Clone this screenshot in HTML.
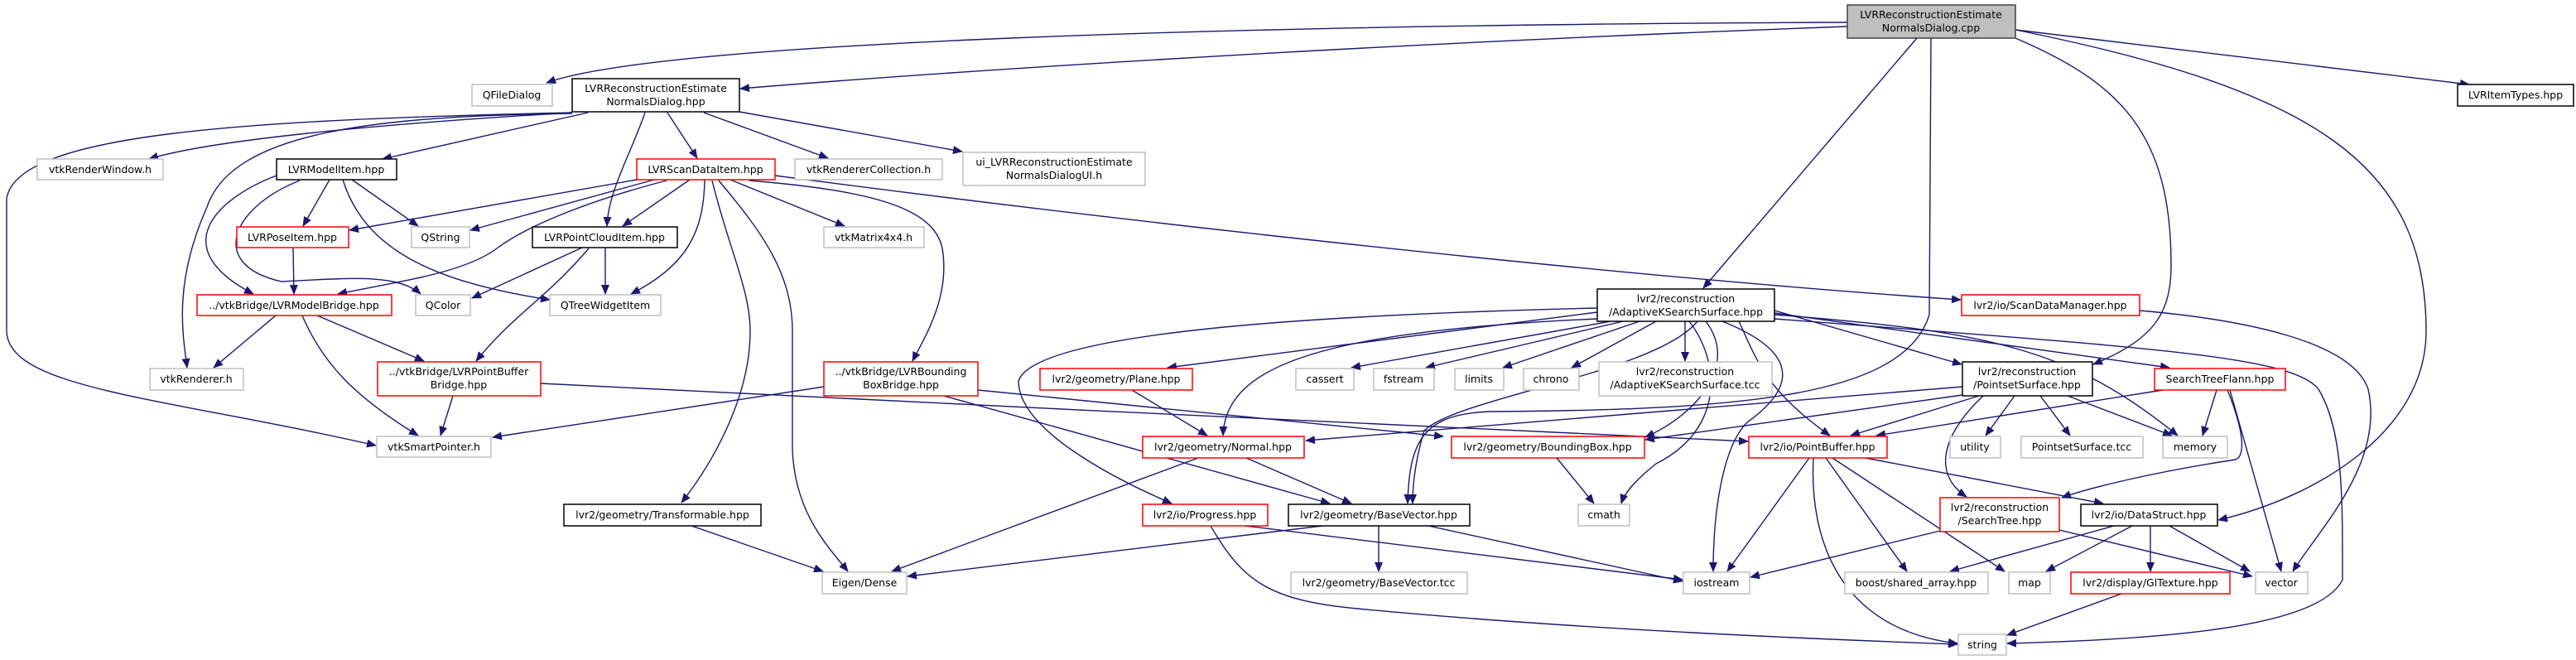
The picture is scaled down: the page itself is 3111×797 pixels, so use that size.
<!DOCTYPE html>
<html><head><meta charset="utf-8"><style>
html,body{margin:0;padding:0;background:#fff;}
svg{display:block;}
text{font-family:"DejaVu Sans","Liberation Sans",sans-serif;font-size:12.5px;fill:#000;text-anchor:middle;}
.e{fill:none;stroke:#191970;stroke-width:1.4;marker-end:url(#a);}
.g{fill:#fff;stroke:#bfbfbf;stroke-width:1.5;}
.b{fill:#fff;stroke:#000;stroke-width:1.5;}
.r{fill:#fff;stroke:#ff0000;stroke-width:1.5;}
</style></head><body>
<svg width="3111" height="797" viewBox="0 0 3111 797" xmlns="http://www.w3.org/2000/svg">
<defs><marker id="a" markerWidth="12" markerHeight="10" refX="11" refY="5" orient="auto" markerUnits="userSpaceOnUse"><path d="M0,0 L12,5 L0,10 z" fill="#191970"/></marker></defs>

<!-- edges -->
<path class="e" d="M2231,27 C1500,30 800,50 660,100"/>
<path class="e" d="M2231,32 C1600,55 1100,90 894,107"/>
<path class="e" d="M2315,46 L2057,348"/>
<path class="e" d="M2332,46 L2330,380 C2300,480 2100,495 1800,497 C1720,500 1702,530 1700,608"/>
<path class="e" d="M2434,46 C2560,100 2622,160 2622,320 C2622,380 2600,410 2528,440"/>
<path class="e" d="M2434,36 C2800,110 2930,200 2930,400 C2930,520 2800,600 2679,628"/>
<path class="e" d="M2434,36 L2982,102"/>

<path class="e" d="M691,136 C450,150 250,170 180,192"/>
<path class="e" d="M691,137 C450,140 280,160 250,250 C210,340 220,400 226,444"/>
<path class="e" d="M691,136 C300,145 20,160 8,240 L8,400 C10,470 200,480 454,538"/>
<path class="e" d="M710,136 L462,192"/>
<path class="e" d="M779,136 C760,190 735,230 733,273"/>
<path class="e" d="M806,136 L842,191"/>
<path class="e" d="M850,136 L1000,191"/>
<path class="e" d="M893,135 L1162,183"/>

<path class="e" d="M398,217 L366,273"/>
<path class="e" d="M425,217 L505,273"/>
<path class="e" d="M414,217 C440,300 520,340 664,362"/>
<path class="e" d="M334,212 C260,240 200,300 306,355"/>
<path class="e" d="M362,218 C280,250 250,320 340,340 C420,336 480,330 508,355"/>

<path class="e" d="M769,217 L422,278"/>
<path class="e" d="M790,217 L568,278"/>
<path class="e" d="M805,218 C720,240 640,270 600,300 C560,330 480,340 408,355"/>
<path class="e" d="M833,217 L752,273"/>
<path class="e" d="M851,217 C850,280 830,320 762,355"/>
<path class="e" d="M860,218 C880,300 906,350 906,400 C906,480 860,560 823,607"/>
<path class="e" d="M868,218 C920,280 957,330 957,400 L957,543 C960,620 1000,660 1024,690"/>
<path class="e" d="M882,217 L1020,273"/>
<path class="e" d="M905,218 C1050,230 1128,250 1138,300 C1148,360 1115,410 1102,436"/>
<path class="e" d="M936,212 C1300,260 1900,330 2368,362"/>

<path class="e" d="M354,299 L355,355"/>
<path class="e" d="M703,299 L570,360"/>
<path class="e" d="M731,299 L731,355"/>
<path class="e" d="M711,300 C660,360 620,380 575,436"/>
<path class="e" d="M333,381 L258,444"/>
<path class="e" d="M365,381 C390,440 430,480 505,526"/>
<path class="e" d="M383,381 L512,436"/>

<path class="e" d="M547,478 L532,526"/>
<path class="e" d="M653,463 C1100,485 1700,515 2111,533"/>
<path class="e" d="M995,467 L595,528"/>
<path class="e" d="M1140,478 L1606,608"/>
<path class="e" d="M1181,471 L1743,527"/>
<path class="e" d="M1367,471 L1458,526"/>
<path class="e" d="M1505,553 L1632,608"/>
<path class="e" d="M1447,553 L1077,690"/>
<path class="e" d="M1504,635 L2032,700"/>
<path class="e" d="M1462,635 C1500,700 1530,725 1640,735 C1900,760 2200,772 2364,778"/>
<path class="e" d="M1597,635 L1096,696"/>
<path class="e" d="M1665,635 L1665,690"/>
<path class="e" d="M1725,635 L2032,702"/>
<path class="e" d="M1880,553 L1925,608"/>
<path class="e" d="M835,635 L994,690"/>

<!-- AKS edges -->
<path class="e" d="M1929,377 L1410,444"/>
<path class="e" d="M1929,385 C1600,400 1480,440 1477,526"/>
<path class="e" d="M1929,372 C1600,380 1250,400 1230,460 C1230,520 1350,580 1415,608"/>
<path class="e" d="M1945,388 L1632,444"/>
<path class="e" d="M1960,388 L1722,444"/>
<path class="e" d="M1980,388 L1815,444"/>
<path class="e" d="M2000,388 L1898,444"/>
<path class="e" d="M2035,388 L2035,436"/>
<path class="e" d="M2040,388 C2080,440 2080,520 2000,560 C1975,580 1962,595 1958,608"/>
<path class="e" d="M2060,388 C2100,440 2050,500 1987,528"/>
<path class="e" d="M2050,388 C2000,450 1760,480 1720,520 C1708,560 1706,590 1706,608"/>
<path class="e" d="M2080,388 C2160,420 2180,460 2110,510 C2080,540 2069,620 2069,690"/>
<path class="e" d="M2100,388 C2120,430 2130,470 2210,526"/>
<path class="e" d="M2143,375 L2369,440"/>
<path class="e" d="M2143,378 L2620,444"/>
<path class="e" d="M2143,380 C2400,400 2500,420 2630,526"/>
<path class="e" d="M2143,385 C2600,420 2769,430 2800,470 C2830,520 2829,600 2829,700 C2800,760 2600,772 2424,777"/>

<path class="e" d="M2370,467 L1577,532"/>
<path class="e" d="M2370,477 L1987,531"/>
<path class="e" d="M2390,478 L2235,526"/>
<path class="e" d="M2433,478 L2398,526"/>
<path class="e" d="M2464,478 L2500,526"/>
<path class="e" d="M2497,478 L2623,526"/>
<path class="e" d="M2395,478 C2350,520 2330,570 2375,600"/>
<path class="e" d="M2612,471 L2266,526"/>
<path class="e" d="M2677,471 L2660,526"/>
<path class="e" d="M2690,471 C2710,520 2712,550 2700,555 C2600,570 2520,590 2490,601"/>
<path class="e" d="M2693,471 L2755,690"/>
<path class="e" d="M2185,553 L2086,690"/>
<path class="e" d="M2190,553 C2185,650 2220,760 2364,777"/>
<path class="e" d="M2205,553 L2303,690"/>
<path class="e" d="M2213,553 L2421,690"/>
<path class="e" d="M2253,553 L2540,608"/>
<path class="e" d="M2343,641 L2114,697"/>
<path class="e" d="M2487,640 L2720,696"/>
<path class="e" d="M2553,635 L2355,690"/>
<path class="e" d="M2575,635 L2471,690"/>
<path class="e" d="M2597,635 L2597,690"/>
<path class="e" d="M2620,635 L2717,690"/>
<path class="e" d="M2562,717 L2424,767"/>
<path class="e" d="M2584,375 C2700,385 2840,410 2860,470 C2880,560 2800,640 2769,690"/>

<!-- nodes -->
<rect x="2231" y="6" width="203" height="40" fill="#bfbfbf" stroke="#404040" stroke-width="1.5"/>
<text x="2332" y="22">LVRReconstructionEstimate</text><text x="2332" y="38">NormalsDialog.cpp</text>

<rect class="g" x="570" y="102" width="97" height="26"/><text x="618" y="119">QFileDialog</text>
<rect class="b" x="691" y="95" width="202" height="40"/><text x="792" y="111">LVRReconstructionEstimate</text><text x="792" y="127">NormalsDialog.hpp</text>
<rect class="b" x="2968" y="102" width="140" height="26"/><text x="3038" y="119">LVRItemTypes.hpp</text>

<rect class="g" x="45" y="192" width="152" height="25"/><text x="121" y="209">vtkRenderWindow.h</text>
<rect class="b" x="334" y="192" width="145" height="25"/><text x="406" y="209">LVRModelItem.hpp</text>
<rect class="r" x="769" y="192" width="167" height="25"/><text x="852" y="209">LVRScanDataItem.hpp</text>
<rect class="g" x="960" y="192" width="178" height="25"/><text x="1049" y="209">vtkRendererCollection.h</text>
<rect class="g" x="1163" y="184" width="220" height="40"/><text x="1273" y="200">ui_LVRReconstructionEstimate</text><text x="1273" y="216">NormalsDialogUI.h</text>

<rect class="r" x="286" y="274" width="135" height="25"/><text x="353" y="291">LVRPoseItem.hpp</text>
<rect class="g" x="497" y="274" width="70" height="25"/><text x="532" y="291">QString</text>
<rect class="b" x="643" y="274" width="175" height="25"/><text x="730" y="291">LVRPointCloudItem.hpp</text>
<rect class="g" x="995" y="274" width="121" height="25"/><text x="1055" y="291">vtkMatrix4x4.h</text>

<rect class="r" x="238" y="356" width="235" height="25"/><text x="355" y="373">../vtkBridge/LVRModelBridge.hpp</text>
<rect class="g" x="502" y="356" width="66" height="25"/><text x="535" y="373">QColor</text>
<rect class="g" x="664" y="356" width="134" height="25"/><text x="731" y="373">QTreeWidgetItem</text>
<rect class="r" x="2369" y="356" width="215" height="25"/><text x="2476" y="373">lvr2/io/ScanDataManager.hpp</text>
<rect class="b" x="1929" y="349" width="214" height="39"/><text x="2036" y="365">lvr2/reconstruction</text><text x="2036" y="381">/AdaptiveKSearchSurface.hpp</text>

<rect class="g" x="181" y="445" width="113" height="26"/><text x="237" y="462">vtkRenderer.h</text>
<rect class="r" x="456" y="437" width="197" height="41"/><text x="554" y="453">../vtkBridge/LVRPointBuffer</text><text x="554" y="469">Bridge.hpp</text>
<rect class="r" x="995" y="437" width="186" height="41"/><text x="1088" y="453">../vtkBridge/LVRBounding</text><text x="1088" y="469">BoxBridge.hpp</text>
<rect class="r" x="1256" y="445" width="184" height="26"/><text x="1348" y="462">lvr2/geometry/Plane.hpp</text>
<rect class="g" x="1565" y="445" width="70" height="26"/><text x="1600" y="462">cassert</text>
<rect class="g" x="1659" y="445" width="73" height="26"/><text x="1695" y="462">fstream</text>
<rect class="g" x="1757" y="445" width="59" height="26"/><text x="1786" y="462">limits</text>
<rect class="g" x="1840" y="445" width="67" height="26"/><text x="1873" y="462">chrono</text>
<rect class="g" x="1931" y="437" width="209" height="41"/><text x="2035" y="453">lvr2/reconstruction</text><text x="2035" y="469">/AdaptiveKSearchSurface.tcc</text>
<rect class="b" x="2370" y="437" width="157" height="41"/><text x="2448" y="453">lvr2/reconstruction</text><text x="2448" y="469">/PointsetSurface.hpp</text>
<rect class="r" x="2602" y="445" width="158" height="26"/><text x="2681" y="462">SearchTreeFlann.hpp</text>

<rect class="g" x="455" y="527" width="138" height="25"/><text x="524" y="544">vtkSmartPointer.h</text>
<rect class="r" x="1380" y="527" width="195" height="26"/><text x="1477" y="544">lvr2/geometry/Normal.hpp</text>
<rect class="r" x="1753" y="527" width="233" height="26"/><text x="1869" y="544">lvr2/geometry/BoundingBox.hpp</text>
<rect class="r" x="2112" y="527" width="167" height="26"/><text x="2195" y="544">lvr2/io/PointBuffer.hpp</text>
<rect class="g" x="2355" y="527" width="61" height="26"/><text x="2385" y="544">utility</text>
<rect class="g" x="2441" y="527" width="147" height="26"/><text x="2514" y="544">PointsetSurface.tcc</text>
<rect class="g" x="2612" y="527" width="78" height="26"/><text x="2651" y="544">memory</text>

<rect class="b" x="681" y="609" width="238" height="26"/><text x="800" y="626">lvr2/geometry/Transformable.hpp</text>
<rect class="r" x="1380" y="609" width="151" height="26"/><text x="1455" y="626">lvr2/io/Progress.hpp</text>
<rect class="b" x="1556" y="609" width="219" height="26"/><text x="1665" y="626">lvr2/geometry/BaseVector.hpp</text>
<rect class="g" x="1906" y="609" width="62" height="26"/><text x="1937" y="626">cmath</text>
<rect class="r" x="2343" y="601" width="144" height="41"/><text x="2415" y="617">lvr2/reconstruction</text><text x="2415" y="633">/SearchTree.hpp</text>
<rect class="b" x="2513" y="609" width="165" height="26"/><text x="2595" y="626">lvr2/io/DataStruct.hpp</text>

<rect class="g" x="993" y="691" width="102" height="26"/><text x="1044" y="708">Eigen/Dense</text>
<rect class="g" x="1559" y="691" width="213" height="26"/><text x="1665" y="708">lvr2/geometry/BaseVector.tcc</text>
<rect class="g" x="2033" y="691" width="80" height="26"/><text x="2073" y="708">iostream</text>
<rect class="g" x="2228" y="691" width="173" height="26"/><text x="2314" y="708">boost/shared_array.hpp</text>
<rect class="g" x="2426" y="691" width="50" height="26"/><text x="2451" y="708">map</text>
<rect class="r" x="2501" y="691" width="192" height="26"/><text x="2597" y="708">lvr2/display/GlTexture.hpp</text>
<rect class="g" x="2724" y="691" width="63" height="26"/><text x="2755" y="708">vector</text>
<rect class="g" x="2365" y="766" width="58" height="25"/><text x="2394" y="783">string</text>
</svg>
</body></html>
